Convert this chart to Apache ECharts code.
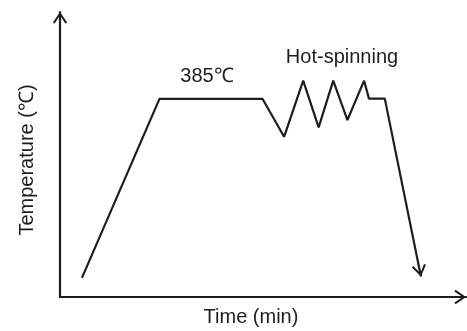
<!DOCTYPE html>
<html>
<head>
<meta charset="utf-8">
<script src="https://cdn.jsdelivr.net/npm/echarts@6/dist/echarts.min.js"></script>
<style>html,body{margin:0;padding:0;background:#fff;}#c{width:467px;height:331px;}</style>
</head>
<body>
<div id="c"></div>
<script>
// Schematic heat-treatment / hot-spinning profile (arbitrary units)
const timeValues = [5.4, 24.5, 49.9, 55.2, 59.9, 63.7, 67.3, 70.8, 74.9, 76.1, 80.0, 88.9];
const tempValues = [6.7, 69.5, 69.5, 56.2, 75.9, 59.5, 75.9, 62.1, 75.9, 69.6, 69.6, 7.2];
const plateauLabel = '385℃';
const spinLabel = 'Hot-spinning';
const xName = 'Time (min)';
const yName = 'Temperature (℃)';

const INK = '#1e1e1e';
const FONT = '"Liberation Sans", Arial, sans-serif';
// open chevron, tip at bbox centre, pointing up
const CHEVRON = 'path://M0,0 L7.2,10.5 L5.4,11.6 L0,3.4 L-5.4,11.6 L-7.2,10.5 Z M0,-11.6 L0,-11.6';

const seriesData = timeValues.map((t, i) => {
  const item = { value: [t, tempValues[i]] };
  if (i === timeValues.length - 1) {
    item.symbol = CHEVRON;
    item.symbolSize = [14.4, 23.2];
    item.symbolRotate = 191;
    item.itemStyle = { color: INK, borderWidth: 0 };
  }
  return item;
});

const chart = echarts.init(document.getElementById('c'), null, { renderer: 'canvas' });
chart.setOption({
  animation: false,
  backgroundColor: '#fff',
  grid: { left: 60, right: 1, top: 12, bottom: 34, containLabel: false },
  xAxis: {
    type: 'value', min: 0, max: 100,
    axisLine: { show: true, onZero: false, symbol: ['none', CHEVRON], symbolSize: [14.4, 23.2],
      lineStyle: { color: INK, width: 2.2 } },
    axisTick: { show: false }, axisLabel: { show: false }, splitLine: { show: false }
  },
  yAxis: {
    type: 'value', min: 0, max: 100,
    axisLine: { show: true, onZero: false, symbol: ['none', CHEVRON], symbolSize: [14.4, 23.2],
      lineStyle: { color: INK, width: 2.2 } },
    axisTick: { show: false }, axisLabel: { show: false }, splitLine: { show: false }
  },
  series: [{
    type: 'line',
    data: seriesData,
    symbol: 'none',
    showSymbol: true,
    lineStyle: { color: INK, width: 2.2 },
    itemStyle: { color: INK },
    emphasis: { disabled: true },
    silent: true
  }],
  graphic: [
    { type: 'text', x: 207, y: 76, style: { text: plateauLabel, font: '20px ' + FONT, fill: INK, align: 'center', verticalAlign: 'middle' } },
    { type: 'text', x: 342, y: 57, style: { text: spinLabel, font: '20px ' + FONT, fill: INK, align: 'center', verticalAlign: 'middle' } },
    { type: 'text', x: 251, y: 317, style: { text: xName, font: '20px ' + FONT, fill: INK, align: 'center', verticalAlign: 'middle' } },
    { type: 'text', x: 27, y: 160, rotation: Math.PI / 2, style: { text: yName, font: '20px ' + FONT, fill: INK, align: 'center', verticalAlign: 'middle' } }
  ]
});
</script>
</body>
</html>
